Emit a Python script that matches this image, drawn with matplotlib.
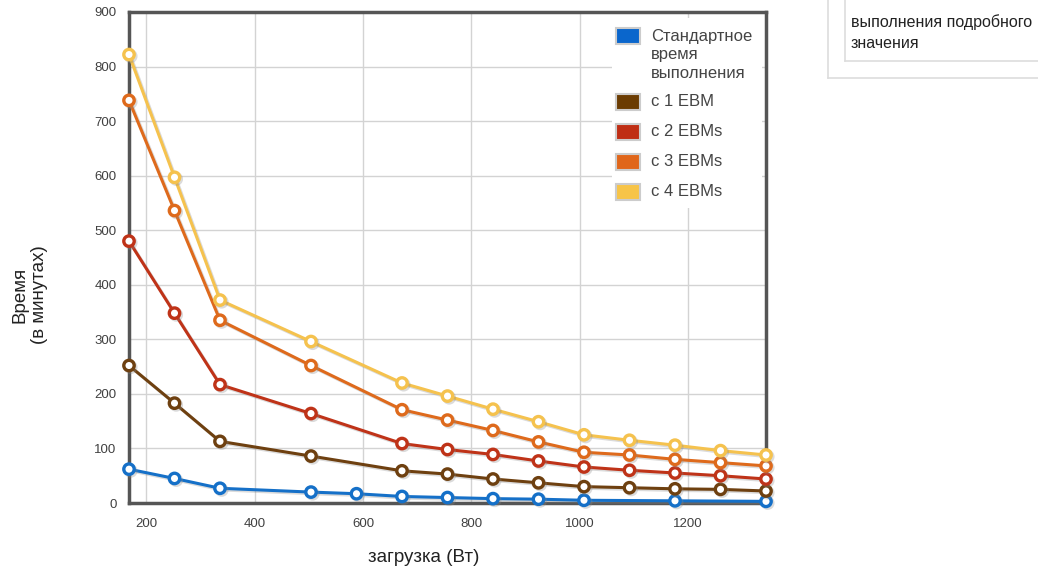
"""Runtime vs load chart for UPS with extended battery modules"""

import matplotlib
matplotlib.use("Agg")
import matplotlib.pyplot as plt
import matplotlib.patheffects as pe
from matplotlib.patches import Rectangle
from matplotlib.lines import Line2D

plt.rcParams["font.family"] = ["Liberation Sans", "DejaVu Sans"]

# load in watts
load_std = [168, 252, 336, 504, 588, 672, 756, 840, 924, 1008, 1176, 1344]
load_ebm = [168, 252, 336, 504, 672, 756, 840, 924, 1008, 1092, 1176, 1260, 1344]

# runtime in minutes
runtime_std = [62, 45, 27, 20, 17, 12, 10, 8, 7, 5, 4, 3]
runtime_1 = [252, 183, 113, 86, 59, 53, 44, 37, 30, 28, 26, 25, 22]
runtime_2 = [480, 348, 217, 164, 109, 98, 89, 77, 66, 60, 55, 50, 44]
runtime_3 = [738, 536, 335, 252, 171, 152, 133, 112, 93, 88, 80, 74, 68]
runtime_4 = [822, 597, 372, 296, 220, 196, 172, 149, 125, 115, 106, 96, 88]

labels = ["Стандартное\nвремя\nвыполнения", "с 1 EBM", "с 2 EBMs", "с 3 EBMs", "с 4 EBMs"]
colors = ["#1570c8", "#6e4010", "#bf3318", "#de6a1c", "#f5c24e"]
patch_colors = ["#0a66cc", "#6b3c02", "#bf2e14", "#e0661a", "#f7c448"]

xticks = [200, 400, 600, 800, 1000, 1200]
yticks = [0, 100, 200, 300, 400, 500, 600, 700, 800, 900]

W, H = 1038, 571


def fx(px):
    """pixel x -> figure fraction"""
    return px / W


def fy(py):
    """pixel y (from top) -> figure fraction"""
    return 1 - py / H


fig = plt.figure(figsize=(W / 100, H / 100), dpi=100)
ax = fig.add_axes([fx(129), fy(503), (766 - 129) / W, (503 - 12) / H])

series = [(load_std, runtime_std), (load_ebm, runtime_1), (load_ebm, runtime_2),
          (load_ebm, runtime_3), (load_ebm, runtime_4)]
shadow = [pe.SimpleLineShadow(offset=(1.2, -1.2), shadow_color="#888888", alpha=0.3), pe.Normal()]
for (x, y), c in zip(series, colors):
    ax.plot(x, y, color=c, lw=2.2, marker="o", ms=7.5, mfc="white", mec=c, mew=2.4,
            clip_on=False, zorder=3, path_effects=shadow)

ax.set_xlim(168, 1344)
ax.set_ylim(0, 900)
ax.set_xticks(xticks)
ax.set_yticks(yticks)
ax.tick_params(length=0, labelsize=9.5, labelcolor="#404040")
ax.tick_params(axis="x", pad=11)
ax.tick_params(axis="y", pad=9)
ax.grid(True, color="#d3d3d3", lw=1)
ax.set_axisbelow(True)
for s in ax.spines.values():
    s.set_color("#555555")
    s.set_linewidth(2.5)

# legend drawn by hand: patch sits on the first line of a multi-line label
fig.add_artist(Rectangle((fx(612), fy(208)), (762 - 612) / W, (208 - 18) / H,
                         facecolor="white", edgecolor="none", zorder=4))
legend_y = [36, 102, 132, 162, 192]
for lab, pc, py in zip(labels, patch_colors, legend_y):
    fig.add_artist(Rectangle((fx(616), fy(py + 8)), 24 / W, 16 / H, facecolor=pc,
                             edgecolor="#cccccc", lw=1.5, zorder=5))
    for i, part in enumerate(lab.split("\n")):
        fig.text(fx(651), fy(py + 19 * i), part, ha="left", va="center",
                 fontsize=12, color="#444444", zorder=6)

fig.text(fx(424), fy(557), "загрузка (Вт)", ha="center", va="center",
         fontsize=13.5, color="#222222")
fig.text(fx(30), fy(295), "Время\n(в минутах)", ha="center", va="center",
         rotation=90, fontsize=13.5, color="#222222", multialignment="center")

# cropped detail box at top right
box_color = "#dddddd"
fig.add_artist(Line2D([fx(828), fx(828)], [1, fy(78)], color=box_color, lw=1.2))
fig.add_artist(Line2D([fx(828), 1], [fy(78), fy(78)], color=box_color, lw=1.2))
fig.add_artist(Line2D([fx(845), fx(845)], [1, fy(61)], color=box_color, lw=1.2))
fig.add_artist(Line2D([fx(845), 1], [fy(61), fy(61)], color=box_color, lw=1.2))
fig.text(fx(851), fy(22), "выполнения подробного", ha="left", va="center",
         fontsize=11.5, color="#222222")
fig.text(fx(851), fy(44), "значения", ha="left", va="center",
         fontsize=11.5, color="#222222")

fig.savefig("out.png", dpi=100)
